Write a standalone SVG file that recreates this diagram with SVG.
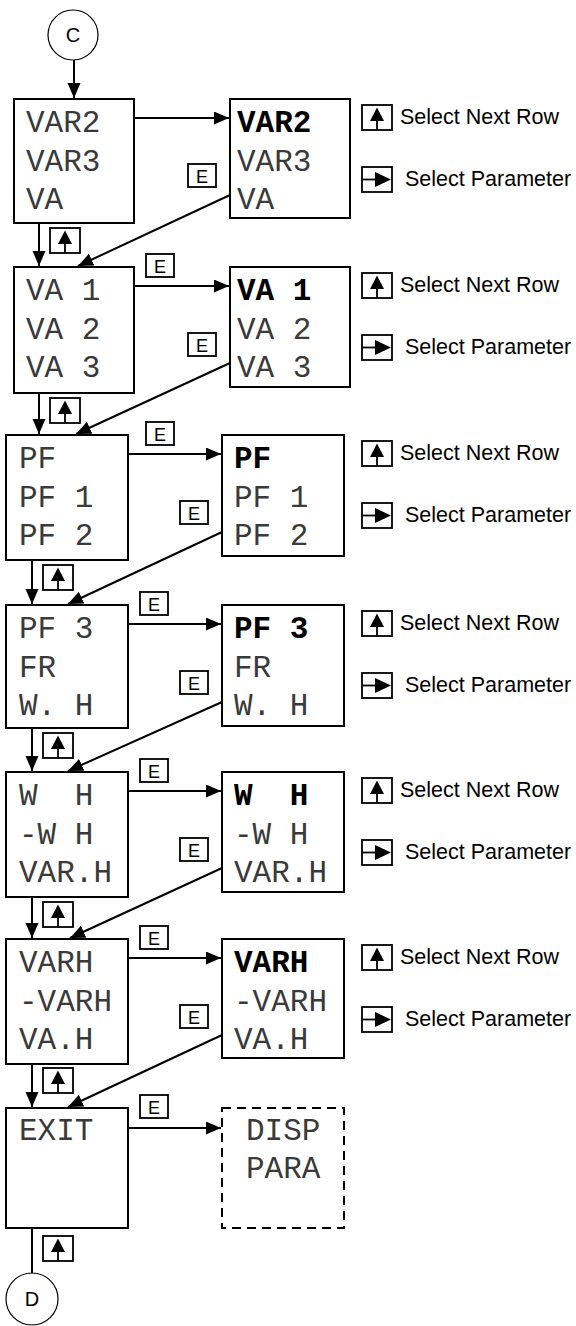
<svg xmlns="http://www.w3.org/2000/svg" width="576" height="1326" viewBox="0 0 576 1326">
<defs>
<style>
.box{fill:#fff;stroke:#000;stroke-width:2}
.dash{fill:#fff;stroke:#000;stroke-width:2;stroke-dasharray:9 6}
.mono{font-family:"Liberation Mono","Courier New",monospace;font-size:31px;fill:#3a3a3a;white-space:pre}
.bold{font-weight:bold;fill:#000}
.sans{font-family:"Liberation Sans",Arial,sans-serif;fill:#000}
.leg{font-size:21.5px}
.kbox{fill:#fff;stroke:#000;stroke-width:1.8}
.kl{stroke:#000;stroke-width:1.8;fill:none}
.conn{stroke:#000;stroke-width:2;fill:none}
.circ{fill:#fff;stroke:#000;stroke-width:1.2}
</style>
<marker id="ah" markerUnits="userSpaceOnUse" markerWidth="16" markerHeight="14" refX="15" refY="6.5" orient="auto">
<path d="M0,0 L15,6.5 L0,13 z" fill="#000"/>
</marker>
<g id="upkey">
<rect class="kbox" x="0" y="0" width="30" height="25"/>
<path d="M15,2.5 L22,16 L8,16 z" fill="#000"/>
<line class="kl" x1="15" y1="16" x2="15" y2="25"/>
</g>
<g id="rtkey">
<rect class="kbox" x="0" y="0" width="30" height="25"/>
<line class="kl" x1="0" y1="12.5" x2="13" y2="12.5"/>
<path d="M13,5 L29,12.5 L13,20 z" fill="#000"/>
</g>
<g id="ekey">
<rect class="kbox" x="0" y="0" width="28" height="23"/>
<text class="sans" x="14" y="18.5" font-size="18" text-anchor="middle">E</text>
</g>
</defs>
<rect width="576" height="1326" fill="#fff"/>

<g id="connectors">
<line class="conn" x1="74" y1="60" x2="74" y2="98" marker-end="url(#ah)"/>
<line class="conn" x1="134" y1="118" x2="229" y2="118" marker-end="url(#ah)"/>
<line class="conn" x1="134" y1="286" x2="229" y2="286" marker-end="url(#ah)"/>
<line class="conn" x1="128" y1="454" x2="221" y2="454" marker-end="url(#ah)"/>
<line class="conn" x1="128" y1="624" x2="221" y2="624" marker-end="url(#ah)"/>
<line class="conn" x1="128" y1="791" x2="221" y2="791" marker-end="url(#ah)"/>
<line class="conn" x1="128" y1="958" x2="221" y2="958" marker-end="url(#ah)"/>
<line class="conn" x1="128" y1="1128" x2="221" y2="1128" marker-end="url(#ah)"/>
<line class="conn" x1="39" y1="223" x2="39" y2="266" marker-end="url(#ah)"/>
<line class="conn" x1="39" y1="393" x2="39" y2="434" marker-end="url(#ah)"/>
<line class="conn" x1="32" y1="560" x2="32" y2="604" marker-end="url(#ah)"/>
<line class="conn" x1="32" y1="728" x2="32" y2="771" marker-end="url(#ah)"/>
<line class="conn" x1="32" y1="897" x2="32" y2="938" marker-end="url(#ah)"/>
<line class="conn" x1="32" y1="1064" x2="32" y2="1107" marker-end="url(#ah)"/>
<line class="conn" x1="32" y1="1228" x2="32" y2="1273"/>
<line class="conn" x1="230" y1="195" x2="78" y2="266" marker-end="url(#ah)"/>
<line class="conn" x1="230" y1="363" x2="76" y2="434" marker-end="url(#ah)"/>
<line class="conn" x1="222" y1="532" x2="68" y2="604" marker-end="url(#ah)"/>
<line class="conn" x1="222" y1="702" x2="68" y2="771" marker-end="url(#ah)"/>
<line class="conn" x1="222" y1="868" x2="70" y2="938" marker-end="url(#ah)"/>
<line class="conn" x1="222" y1="1035" x2="68" y2="1107" marker-end="url(#ah)"/>
</g>

<g id="nodeC">
<circle class="circ" cx="73" cy="35" r="25"/>
<text class="sans" x="73" y="42" font-size="20" text-anchor="middle">C</text>
</g>
<g id="nodeD">
<circle class="circ" cx="32" cy="1299" r="26"/>
<text class="sans" x="32" y="1306" font-size="20" text-anchor="middle">D</text>
</g>

<g id="row1-left">
<rect class="box" x="14" y="99" width="120" height="124"/>
<text class="mono" x="26" y="132">VAR2</text>
<text class="mono" x="26" y="171">VAR3</text>
<text class="mono" x="26" y="209">VA</text>
</g>
<g id="row1-right">
<rect class="box" x="230" y="99" width="120" height="119"/>
<text class="mono bold" x="237" y="132">VAR2</text>
<text class="mono" x="237" y="171">VAR3</text>
<text class="mono" x="237" y="209">VA</text>
</g>
<g id="row2-left">
<rect class="box" x="14" y="267" width="120" height="126"/>
<text class="mono" x="26" y="300">VA 1</text>
<text class="mono" x="26" y="339">VA 2</text>
<text class="mono" x="26" y="377">VA 3</text>
</g>
<g id="row2-right">
<rect class="box" x="230" y="267" width="120" height="120"/>
<text class="mono bold" x="237" y="300">VA 1</text>
<text class="mono" x="237" y="339">VA 2</text>
<text class="mono" x="237" y="377">VA 3</text>
</g>
<g id="row3-left">
<rect class="box" x="6" y="435" width="122" height="125"/>
<text class="mono" x="19" y="468">PF</text>
<text class="mono" x="19" y="507">PF 1</text>
<text class="mono" x="19" y="545">PF 2</text>
</g>
<g id="row3-right">
<rect class="box" x="222" y="435" width="122" height="121"/>
<text class="mono bold" x="234" y="468">PF</text>
<text class="mono" x="234" y="507">PF 1</text>
<text class="mono" x="234" y="545">PF 2</text>
</g>
<g id="row4-left">
<rect class="box" x="6" y="605" width="122" height="123"/>
<text class="mono" x="19" y="638">PF 3</text>
<text class="mono" x="19" y="677">FR</text>
<text class="mono" x="19" y="715">W. H</text>
</g>
<g id="row4-right">
<rect class="box" x="222" y="605" width="122" height="121"/>
<text class="mono bold" x="234" y="638">PF 3</text>
<text class="mono" x="234" y="677">FR</text>
<text class="mono" x="234" y="715">W. H</text>
</g>
<g id="row5-left">
<rect class="box" x="6" y="772" width="122" height="125"/>
<text class="mono" x="19" y="805" xml:space="preserve">W  H</text>
<text class="mono" x="19" y="844">-W H</text>
<text class="mono" x="19" y="882">VAR.H</text>
</g>
<g id="row5-right">
<rect class="box" x="222" y="772" width="122" height="120"/>
<text class="mono bold" x="234" y="805" xml:space="preserve">W  H</text>
<text class="mono" x="234" y="844">-W H</text>
<text class="mono" x="234" y="882">VAR.H</text>
</g>
<g id="row6-left">
<rect class="box" x="6" y="939" width="122" height="125"/>
<text class="mono" x="19" y="972">VARH</text>
<text class="mono" x="19" y="1011">-VARH</text>
<text class="mono" x="19" y="1049">VA.H</text>
</g>
<g id="row6-right">
<rect class="box" x="222" y="939" width="122" height="119"/>
<text class="mono bold" x="234" y="972">VARH</text>
<text class="mono" x="234" y="1011">-VARH</text>
<text class="mono" x="234" y="1049">VA.H</text>
</g>
<g id="row7-exit">
<rect class="box" x="6" y="1108" width="122" height="120"/>
<text class="mono" x="19" y="1140">EXIT</text>
</g>
<g id="row7-disp">
<rect class="dash" x="222" y="1108" width="122" height="120"/>
<text class="mono" x="246" y="1140">DISP</text>
<text class="mono" x="246" y="1178">PARA</text>
</g>

<g id="keys">
<use href="#upkey" x="50" y="228"/>
<use href="#upkey" x="50" y="398"/>
<use href="#upkey" x="43" y="565"/>
<use href="#upkey" x="43" y="733"/>
<use href="#upkey" x="43" y="902"/>
<use href="#upkey" x="43" y="1068"/>
<use href="#upkey" x="43" y="1236"/>
<use href="#ekey" x="188" y="164"/>
<use href="#ekey" x="188" y="333"/>
<use href="#ekey" x="180" y="501"/>
<use href="#ekey" x="180" y="671"/>
<use href="#ekey" x="180" y="838"/>
<use href="#ekey" x="180" y="1005"/>
<use href="#ekey" x="146" y="254"/>
<use href="#ekey" x="146" y="422"/>
<use href="#ekey" x="140" y="592"/>
<use href="#ekey" x="140" y="759"/>
<use href="#ekey" x="140" y="926"/>
<use href="#ekey" x="140" y="1095"/>
</g>

<g id="legends">
<use href="#upkey" x="362" y="105"/>
<text class="sans leg" x="400" y="124">Select Next Row</text>
<use href="#rtkey" x="362" y="167"/>
<text class="sans leg" x="405" y="186">Select Parameter</text>
<use href="#upkey" x="362" y="273"/>
<text class="sans leg" x="400" y="292">Select Next Row</text>
<use href="#rtkey" x="362" y="335"/>
<text class="sans leg" x="405" y="354">Select Parameter</text>
<use href="#upkey" x="362" y="441"/>
<text class="sans leg" x="400" y="460">Select Next Row</text>
<use href="#rtkey" x="362" y="503"/>
<text class="sans leg" x="405" y="522">Select Parameter</text>
<use href="#upkey" x="362" y="611"/>
<text class="sans leg" x="400" y="630">Select Next Row</text>
<use href="#rtkey" x="362" y="673"/>
<text class="sans leg" x="405" y="692">Select Parameter</text>
<use href="#upkey" x="362" y="778"/>
<text class="sans leg" x="400" y="797">Select Next Row</text>
<use href="#rtkey" x="362" y="840"/>
<text class="sans leg" x="405" y="859">Select Parameter</text>
<use href="#upkey" x="362" y="945"/>
<text class="sans leg" x="400" y="964">Select Next Row</text>
<use href="#rtkey" x="362" y="1007"/>
<text class="sans leg" x="405" y="1026">Select Parameter</text>
</g>
</svg>
